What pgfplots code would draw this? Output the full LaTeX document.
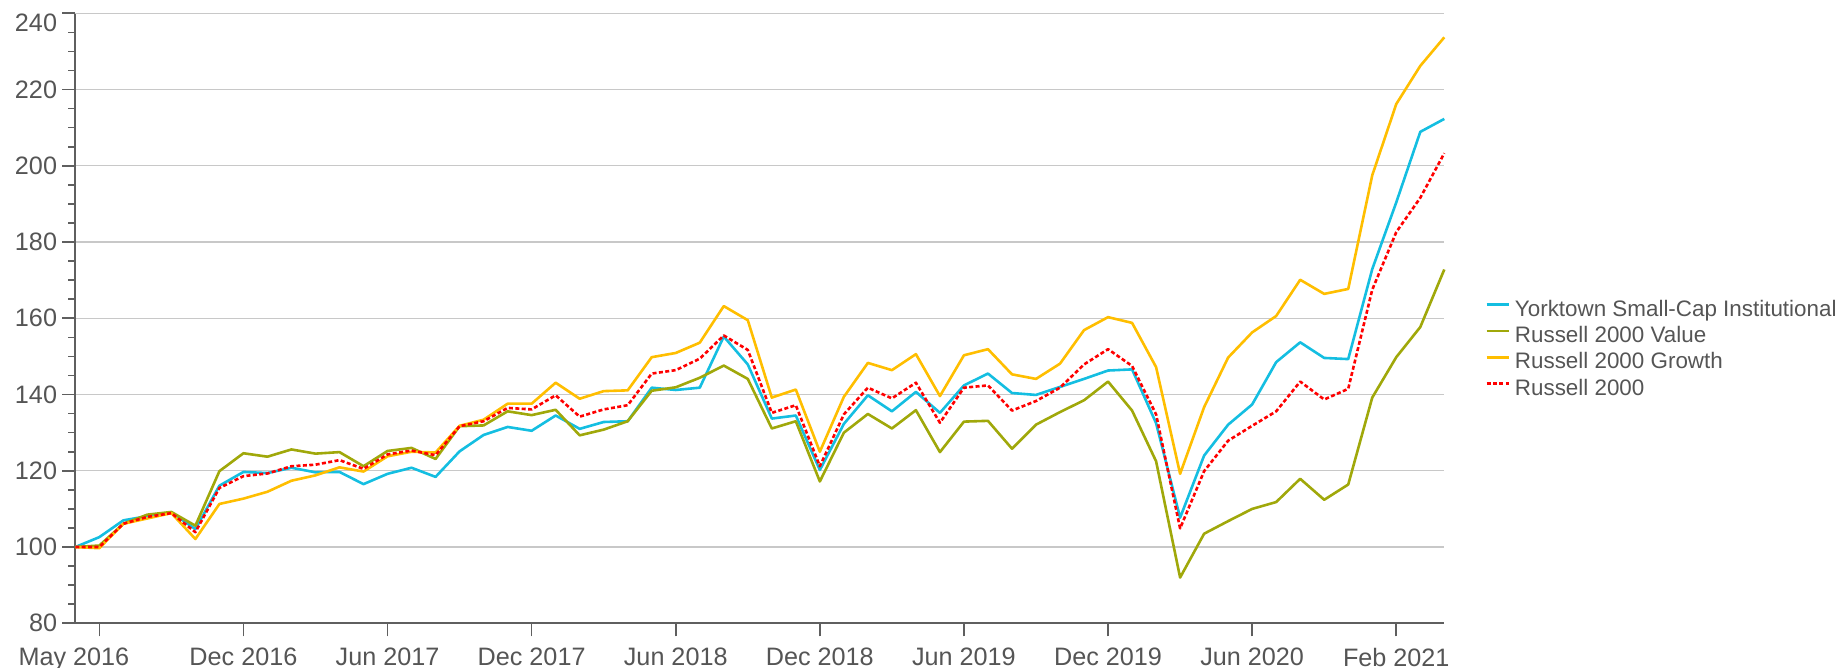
\documentclass[border=0pt]{standalone}
\usepackage{pgfplots}
\pgfplotsset{compat=1.18}
\usepackage{pgfplotstable}
\usepackage{fontspec}
\setmainfont{Liberation Sans}
\definecolor{cyanl}{RGB}{20,190,225}
\definecolor{olivel}{RGB}{160,168,10}
\definecolor{yellowl}{RGB}{255,190,0}
\definecolor{redl}{RGB}{255,0,0}
\definecolor{gridc}{RGB}{200,200,200}
\definecolor{axc}{RGB}{95,95,95}
\definecolor{txt}{RGB}{85,85,85}
\pgfplotstableread{
i yt val gro r2k
0 100 100 100 100
1 102.6 100.4 99.7 100.0
2 107.0 106.1 106.1 106.1
3 108.1 108.5 107.5 107.9
4 109.1 109.2 108.9 108.9
5 104.7 105.6 102.1 103.9
6 116.1 119.9 111.3 115.5
7 119.7 124.6 112.7 118.6
8 119.4 123.7 114.5 119.3
9 120.8 125.6 117.4 121.2
10 119.6 124.5 118.8 121.6
11 119.7 124.9 120.9 122.8
12 116.5 121.2 119.8 120.5
13 119.2 125.2 123.8 124.3
14 120.8 126.0 125.0 125.3
15 118.4 123.1 124.8 124.1
16 125.1 131.7 131.8 131.7
17 129.4 131.9 133.4 133.0
18 131.5 135.6 137.6 136.5
19 130.5 134.6 137.6 136.1
20 134.5 136.0 143.1 139.8
21 131.0 129.3 138.9 134.2
22 132.8 130.8 140.9 136.1
23 133.0 133.0 141.1 137.2
24 141.8 141.0 149.8 145.5
25 141.2 141.9 150.9 146.4
26 141.8 144.4 153.6 149.4
27 155.2 147.6 163.2 155.5
28 147.9 144.1 159.5 151.7
29 133.7 131.1 139.2 135.2
30 134.5 133.0 141.3 137.2
31 120.2 117.2 125.0 121.2
32 132.3 130.0 139.4 134.8
33 139.8 134.9 148.3 141.8
34 135.6 131.1 146.4 139.0
35 140.7 135.9 150.6 143.1
36 135.2 124.9 139.6 132.6
37 142.4 132.9 150.3 141.8
38 145.5 133.1 151.9 142.4
39 140.4 125.8 145.3 135.8
40 139.9 132.1 144.1 138.3
41 142.0 135.4 148.1 141.8
42 144.1 138.5 156.9 147.9
43 146.3 143.4 160.3 151.9
44 146.6 135.8 158.8 147.5
45 132.5 122.5 147.2 134.8
46 107.7 92.0 119.2 104.9
47 124.0 103.5 136.7 119.9
48 132.1 106.8 149.7 127.9
49 137.4 110.0 156.3 131.8
50 148.5 111.8 160.6 135.6
51 153.7 117.9 170.1 143.4
52 149.6 112.4 166.4 138.7
53 149.3 116.4 167.7 141.5
54 172.9 139.2 197.5 167.5
55 190.4 149.8 216.2 182.6
56 208.9 157.7 226.2 191.6
57 212.3 172.8 233.7 203.3
}\datatable
\begin{document}
\begin{tikzpicture}
\useasboundingbox (-37.65pt,-22.35pt) rectangle (882.85pt,311.65pt);
\begin{axis}[
  at={(0pt,0pt)}, anchor=south west,
  scale only axis, width=684.5pt, height=305pt,
  xmin=0, xmax=57, ymin=80, ymax=240,
  enlargelimits=false, clip=false,
  axis lines=left, axis line style={-, draw=axc, line width=0.8pt},
  tick align=outside,
  tick style={draw=axc, line width=0.8pt},
  major tick length=6.5pt, minor tick length=3.6pt,
  xtick={7,13,19,25,31,37,43,49,55},
  xticklabels={Dec 2016,Jun 2017,Dec 2017,Jun 2018,Dec 2018,Jun 2019,Dec 2019,Jun 2020,Feb 2021},
  extra x ticks={1},
  extra x tick labels={May 2016},
  extra x tick style={xticklabel style={xshift=-12.7pt}},
  xticklabel style={yshift=-2.3pt},
  ytick={80,100,...,240},
  yticklabels={80,100,120,140,160,180,200,220,{}},
  extra y ticks={240},
  extra y tick labels={240},
  extra y tick style={yticklabel style={yshift=-5pt}},
  yticklabel style={xshift=0.9pt},
  minor y tick num=3,
  ymajorgrids, major grid style={draw=gridc, line width=0.6pt},
  ticklabel style={font=\fontsize{12.6}{14}\selectfont, text=txt},
  legend cell align=left,
  legend style={at={(1.0297,0.531)}, anchor=north west, draw=none, fill=none,
    inner sep=0pt, row sep=2.5pt,
    font=\fontsize{11.2}{13}\selectfont, text=txt,
    nodes={inner sep=0pt, text height=8.2pt, text depth=2.5pt}},
  legend image code/.code={\draw[#1] (0pt,3pt) -- (11pt,3pt);},
  every axis plot/.append style={line width=1.3pt, line join=round},
]
\addplot[color=cyanl] table[x=i,y=yt] {\datatable};
\addlegendentry{\hspace{2.5pt}Yorktown Small-Cap Institutional}
\addplot[color=olivel] table[x=i,y=val] {\datatable};
\addlegendentry{\hspace{2.5pt}Russell 2000 Value}
\addplot[color=yellowl] table[x=i,y=gro] {\datatable};
\addlegendentry{\hspace{2.5pt}Russell 2000 Growth}
\addplot[color=redl, dash pattern=on 2pt off 1.2pt] table[x=i,y=r2k] {\datatable};
\addlegendentry{\hspace{2.5pt}Russell 2000}
\end{axis}
\end{tikzpicture}
\end{document}
